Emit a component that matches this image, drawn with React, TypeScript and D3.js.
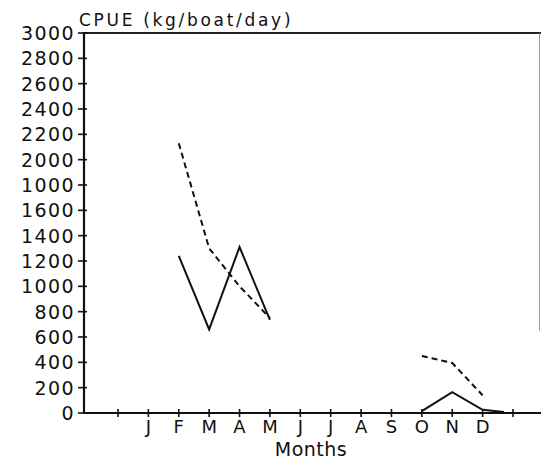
import React from "react";
import * as d3 from "d3";

const W = 541;
const H = 463;

// x positions: month index (0 = unlabeled tick before J, 13 = unlabeled tick after D)
const monthLabels = ["", "J", "F", "M", "A", "M", "J", "J", "A", "S", "O", "N", "D", ""];
const yTickValues = [0, 200, 400, 600, 800, 1000, 1200, 1400, 1600, 1800, 2000, 2200, 2400, 2600, 2800, 3000];
const yTickLabels = ["0", "200", "400", "600", "800", "1000", "1200", "1400", "1600", "1000", "2000", "2200", "2400", "2600", "2800", "3000"];

// solid series (month index, CPUE)
const solidMonths = [2, 3, 4, 5, 6, 10, 11, 12, 12.7];
const solidValues = [1240, 660, 1310, 735, NaN, 15, 165, 25, 8];

// dashed series
const dashedMonths = [2, 3, 4, 5, 6, 10, 11, 12];
const dashedValues = [2130, 1300, 1000, 750, NaN, 450, 395, 140];

const FONT = "DejaVu Sans, sans-serif";

export default function App() {
  const x = d3.scaleLinear().domain([0, 13]).range([118, 513]);
  const y = d3.scaleLinear().domain([0, 3000]).range([413, 33]);
  const x0 = 84;
  const xEnd = 541;

  const line = d3
    .line<[number, number]>()
    .defined((d) => !isNaN(d[1]))
    .x((d) => x(d[0]))
    .y((d) => y(d[1]));

  const solid = line(solidMonths.map((m, i) => [m, solidValues[i]] as [number, number])) || "";
  const dashed = line(dashedMonths.map((m, i) => [m, dashedValues[i]] as [number, number])) || "";

  return (
    <svg
      width={W}
      height={H}
      style={{ position: "absolute", left: 0, top: 0, background: "#fff" }}
    >
      <rect x={0} y={0} width={W} height={H} fill="#fff" />
      {/* frame */}
      <line x1={x0} y1={y(3000)} x2={x0} y2={y(0)} stroke="#111" strokeWidth={2.2} />
      <line x1={x0 - 1} y1={y(3000)} x2={xEnd} y2={y(3000)} stroke="#222" strokeWidth={2} />
      <line x1={x0 - 1} y1={y(0)} x2={xEnd} y2={y(0)} stroke="#111" strokeWidth={2} />
      <line x1={539.5} y1={y(3000)} x2={539.5} y2={y(650)} stroke="#999" strokeWidth={1} />

      {/* y ticks */}
      {yTickValues.map((v, i) => (
        <g key={"y" + i}>
          <line x1={x0 - 6} x2={x0 + 3} y1={y(v)} y2={y(v)} stroke="#111" strokeWidth={1.6} />
          <text
            x={x0 - 9}
            y={y(v)}
            dy="0.36em"
            textAnchor="end"
            fontFamily={FONT}
            fontSize={19}
            letterSpacing={1.4}
            fill="#111"
          >
            {yTickLabels[i]}
          </text>
        </g>
      ))}

      {/* x ticks */}
      {monthLabels.map((m, i) => (
        <g key={"x" + i}>
          <line x1={x(i)} x2={x(i)} y1={y(0) - 4} y2={y(0) + 4} stroke="#111" strokeWidth={1.6} />
          {m && (
            <text
              x={x(i)}
              y={433}
              textAnchor="middle"
              fontFamily={FONT}
              fontSize={18}
              fill="#111"
            >
              {m}
            </text>
          )}
        </g>
      ))}

      {/* data */}
      <path d={solid} fill="none" stroke="#111" strokeWidth={2} strokeLinejoin="miter" />
      <path d={dashed} fill="none" stroke="#111" strokeWidth={2} strokeDasharray="6,4" />

      {/* titles */}
      <text x={79} y={26} fontFamily={FONT} fontSize={17} letterSpacing={2.7} fill="#111">
        CPUE (kg/boat/day)
      </text>
      <text x={311} y={456} textAnchor="middle" fontFamily={FONT} fontSize={19} letterSpacing={0.5} fill="#111">
        Months
      </text>
    </svg>
  );
}
